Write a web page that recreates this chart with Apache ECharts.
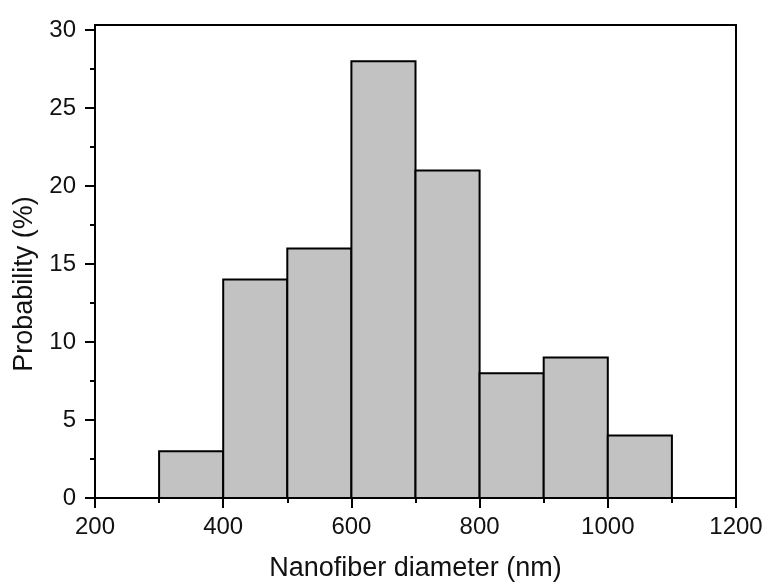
<!DOCTYPE html>
<html>
<head>
<meta charset="utf-8">
<script src="https://cdn.jsdelivr.net/npm/echarts@6/dist/echarts.min.js"></script>
<style>html,body{margin:0;padding:0;background:#fff}#c{width:771px;height:588px}</style>
</head>
<body>
<div id="c"></div>
<script>
const binStart = [300, 400, 500, 600, 700, 800, 900, 1000];
const binEnd = [400, 500, 600, 700, 800, 900, 1000, 1100];
const probability = [3, 14, 16, 28, 21, 8, 9, 4];
const xTicks = [200, 400, 600, 800, 1000, 1200];
const yTicks = [0, 5, 10, 15, 20, 25, 30];

const FONT = 'Liberation Sans, Arial, sans-serif';
const data = binStart.map((s, i) => [s, binEnd[i], probability[i]]);

const chart = echarts.init(document.getElementById('c'), null, {renderer: 'canvas'});
chart.setOption({
  animation: false,
  backgroundColor: '#fff',
  grid: [
    {left: 95, right: 35, top: 30, bottom: 90, containLabel: false},
    {left: 95, right: 35, top: 25, bottom: 90, show: true, borderColor: '#000', borderWidth: 2, backgroundColor: 'transparent', z: 10}
  ],
  xAxis: [{
    type: 'value', gridIndex: 0,
    min: xTicks[0], max: xTicks[xTicks.length - 1], interval: 200,
    name: 'Nanofiber diameter (nm)', nameLocation: 'middle', nameGap: 57,
    nameTextStyle: {fontFamily: FONT, fontSize: 27, color: '#111'},
    axisLine: {show: true, onZero: false, lineStyle: {color: '#000', width: 2}},
    axisTick: {show: true, inside: false, length: 10, lineStyle: {color: '#000', width: 2}},
    minorTick: {show: true, splitNumber: 2, length: 5, lineStyle: {color: '#000', width: 2}},
    axisLabel: {fontFamily: FONT, fontSize: 24, color: '#111', margin: 17, formatter: v => String(v)},
    splitLine: {show: false}
  }, {
    type: 'value', gridIndex: 1, show: false, min: 0, max: 1
  }],
  yAxis: [{
    type: 'value', gridIndex: 0,
    min: yTicks[0], max: yTicks[yTicks.length - 1], interval: 5,
    name: 'Probability (%)', nameLocation: 'middle', nameGap: 57,
    nameTextStyle: {fontFamily: FONT, fontSize: 27, color: '#111', padding: [0, 40, 0, 0]},
    axisLine: {show: true, lineStyle: {color: '#000', width: 2}},
    axisTick: {show: true, inside: false, length: 10, lineStyle: {color: '#000', width: 2}},
    minorTick: {show: true, splitNumber: 2, length: 5, lineStyle: {color: '#000', width: 2}},
    axisLabel: {fontFamily: FONT, fontSize: 24, color: '#111', margin: 19, formatter: v => String(v)},
    splitLine: {show: false}
  }, {
    type: 'value', gridIndex: 1, show: false, min: 0, max: 1
  }],
  series: [{
    type: 'custom',
    xAxisIndex: 0, yAxisIndex: 0,
    data: data,
    encode: {x: [0, 1], y: 2},
    renderItem: function (params, api) {
      const p0 = api.coord([api.value(0), api.value(2)]);
      const p1 = api.coord([api.value(1), 0]);
      return {
        type: 'rect',
        shape: {x: p0[0], y: p0[1], width: p1[0] - p0[0], height: p1[1] - p0[1]},
        style: {fill: '#c2c2c2', stroke: '#000', lineWidth: 2}
      };
    }
  }]
});
</script>
</body>
</html>
